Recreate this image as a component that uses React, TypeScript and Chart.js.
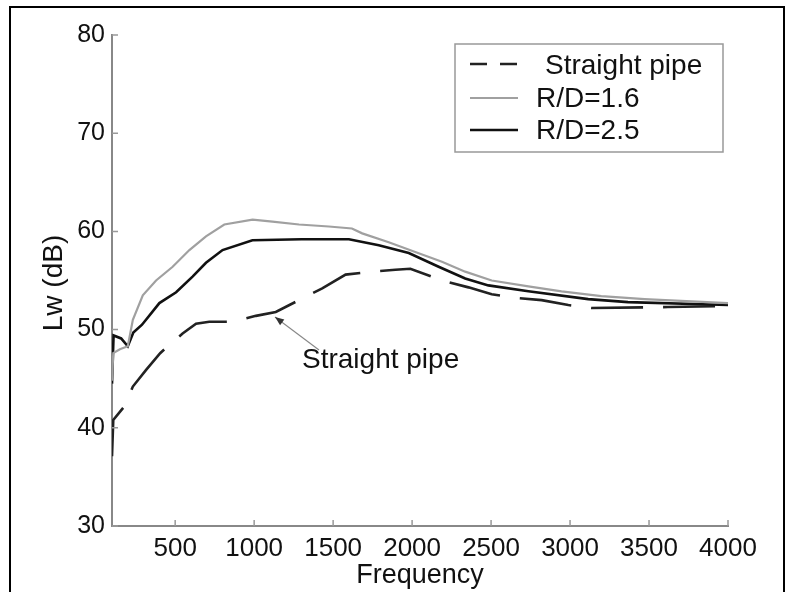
import React, { useEffect, useRef } from "react";
import { Chart, registerables } from "chart.js";

Chart.register(...registerables);

// ---- data ----
const freqStraight = [100, 108, 179, 232, 316, 405, 453, 547, 632, 716, 863, 1011, 1137, 1284, 1431, 1579, 1747, 1894, 1989, 2210, 2357, 2504, 2673, 2820, 2989, 3136, 3620, 4000];
const lwStraight = [37.1, 40.8, 42.2, 44.2, 45.9, 47.6, 48.3, 49.6, 50.6, 50.8, 50.8, 51.4, 51.8, 53.0, 54.2, 55.6, 55.9, 56.1, 56.2, 54.9, 54.3, 53.6, 53.2, 53.0, 52.5, 52.2, 52.3, 52.4];

const freqRD16 = [100, 108, 150, 200, 232, 295, 379, 484, 590, 695, 811, 990, 1116, 1284, 1473, 1619, 1684, 1852, 2020, 2189, 2336, 2504, 2736, 2946, 3198, 3472, 4000];
const lwRD16 = [44.8, 47.6, 48.0, 48.3, 51.0, 53.5, 55.0, 56.4, 58.1, 59.5, 60.7, 61.2, 61.0, 60.7, 60.5, 60.3, 59.8, 58.9, 57.9, 56.9, 55.9, 55.0, 54.4, 53.9, 53.4, 53.1, 52.7];

const freqRD25 = [100, 110, 158, 200, 235, 290, 400, 506, 610, 695, 800, 989, 1300, 1600, 1789, 1979, 2168, 2336, 2483, 2736, 3115, 3367, 4000];
const lwRD25 = [44.5, 49.4, 49.1, 48.3, 49.7, 50.5, 52.7, 53.8, 55.4, 56.8, 58.1, 59.1, 59.2, 59.2, 58.6, 57.8, 56.4, 55.2, 54.5, 53.9, 53.1, 52.8, 52.5];

const xTicks = [500, 1000, 1500, 2000, 2500, 3000, 3500, 4000];
const yTicks = [30, 40, 50, 60, 70, 80];
const seriesNames = ["Straight pipe", "R/D=1.6", "R/D=2.5"];
const xTitle = "Frequency";
const yTitle = "Lw (dB)";
const annotationText = "Straight pipe";

const FONT = "'Liberation Sans', Arial, Helvetica, sans-serif";
const TEXT = "#111";

const toPoints = (xs: number[], ys: number[]) => xs.map((x, i) => ({ x, y: ys[i] }));

const overlayPlugin = {
  id: "overlay",
  afterDraw(chart: any) {
    const ctx = chart.ctx as CanvasRenderingContext2D;
    const xs = chart.scales.x;
    const ys = chart.scales.y;
    const area = chart.chartArea;
    ctx.save();

    // outer frame
    ctx.strokeStyle = "#000";
    ctx.lineWidth = 2;
    ctx.beginPath();
    ctx.moveTo(10, 600);
    ctx.lineTo(10, 7);
    ctx.lineTo(784, 7);
    ctx.lineTo(784, 600);
    ctx.stroke();

    // inner tick marks
    ctx.strokeStyle = "#999";
    ctx.lineWidth = 1.5;
    ctx.beginPath();
    for (const t of xTicks) {
      const px = xs.getPixelForValue(t);
      ctx.moveTo(px, area.bottom);
      ctx.lineTo(px, area.bottom - 6);
    }
    for (const t of yTicks) {
      const py = ys.getPixelForValue(t);
      ctx.moveTo(area.left, py);
      ctx.lineTo(area.left + 6, py);
    }
    ctx.stroke();

    // axis titles
    ctx.fillStyle = TEXT;
    ctx.font = `27px ${FONT}`;
    ctx.textAlign = "center";
    ctx.textBaseline = "middle";
    ctx.fillText(xTitle, (area.left + area.right) / 2, 576);
    ctx.save();
    ctx.translate(54, 283);
    ctx.rotate(-Math.PI / 2);
    ctx.font = `28px ${FONT}`;
    ctx.fillText(yTitle, 0, 0);
    ctx.restore();

    // legend box
    ctx.strokeStyle = "#999";
    ctx.lineWidth = 1.5;
    ctx.strokeRect(455, 44, 268, 108);
    const rows = [
      { y: 64, dash: [17, 13], color: "#222", width: 2.5, text: seriesNames[0], tx: 545, base: 74 },
      { y: 98, dash: [], color: "#a0a0a0", width: 2, text: seriesNames[1], tx: 536, base: 107 },
      { y: 130, dash: [], color: "#111", width: 2.5, text: seriesNames[2], tx: 536, base: 139 },
    ];
    for (const r of rows) {
      ctx.setLineDash(r.dash);
      ctx.strokeStyle = r.color;
      ctx.lineWidth = r.width;
      ctx.beginPath();
      ctx.moveTo(470, r.y);
      ctx.lineTo(518, r.y);
      ctx.stroke();
      ctx.setLineDash([]);
      ctx.fillStyle = TEXT;
      ctx.textAlign = "left";
      ctx.textBaseline = "alphabetic";
      ctx.font = `28px ${FONT}`;
      ctx.fillText(r.text, r.tx, r.base);
    }

    // annotation
    ctx.fillStyle = TEXT;
    ctx.textAlign = "left";
    ctx.textBaseline = "alphabetic";
    ctx.font = `28px ${FONT}`;
    ctx.fillText(annotationText, 302, 368);
    const tipX = 275, tipY = 317;
    const tailX = 319, tailY = 350;
    ctx.strokeStyle = "#888";
    ctx.lineWidth = 1.2;
    ctx.beginPath();
    ctx.moveTo(tailX, tailY);
    ctx.lineTo(tipX, tipY);
    ctx.stroke();
    const ang = Math.atan2(tipY - tailY, tipX - tailX);
    const L = 9, W = 3.5;
    ctx.fillStyle = "#333";
    ctx.beginPath();
    ctx.moveTo(tipX, tipY);
    ctx.lineTo(tipX - L * Math.cos(ang) + W * Math.sin(ang), tipY - L * Math.sin(ang) - W * Math.cos(ang));
    ctx.lineTo(tipX - L * Math.cos(ang) - W * Math.sin(ang), tipY - L * Math.sin(ang) + W * Math.cos(ang));
    ctx.closePath();
    ctx.fill();

    ctx.restore();
  },
};

export default function App() {
  const ref = useRef<HTMLCanvasElement | null>(null);

  useEffect(() => {
    if (!ref.current) return;
    document.body.style.margin = "0";
    const chart = new Chart(ref.current, {
      type: "line",
      data: {
        datasets: [
          {
            label: seriesNames[1],
            data: toPoints(freqRD16, lwRD16),
            borderColor: "#a0a0a0",
            borderWidth: 2.2,
            pointRadius: 0,
            tension: 0,
            fill: false,
          },
          {
            label: seriesNames[2],
            data: toPoints(freqRD25, lwRD25),
            borderColor: "#111",
            borderWidth: 2.6,
            pointRadius: 0,
            tension: 0,
            fill: false,
          },
          {
            label: seriesNames[0],
            data: toPoints(freqStraight, lwStraight),
            borderColor: "#222",
            borderWidth: 2.6,
            borderDash: [52, 20],
            pointRadius: 0,
            tension: 0,
            fill: false,
          },
        ],
      },
      options: {
        responsive: false,
        animation: false,
        devicePixelRatio: 1,
        layout: { padding: { top: 35, right: 66, left: 0, bottom: 0 } },
        plugins: { legend: { display: false }, tooltip: { enabled: false } },
        scales: {
          x: {
            type: "linear",
            min: 100,
            max: 4000,
            grid: { display: false, drawTicks: false },
            border: { color: "#888", width: 2 },
            afterBuildTicks: (scale: any) => {
              scale.ticks = xTicks.map((v) => ({ value: v }));
            },
            afterFit: (scale: any) => {
              scale.height = 66;
            },
            ticks: {
              autoSkip: false,
              maxRotation: 0,
              padding: 7,
              color: TEXT,
              font: { family: FONT, size: 26 },
              callback: (v: any) => String(v),
            },
          },
          y: {
            type: "linear",
            min: 30,
            max: 80,
            grid: { display: false, drawTicks: false },
            border: { color: "#888", width: 2 },
            afterBuildTicks: (scale: any) => {
              scale.ticks = yTicks.map((v) => ({ value: v }));
            },
            afterFit: (scale: any) => {
              scale.width = 112;
            },
            ticks: {
              padding: 7,
              color: TEXT,
              font: { family: FONT, size: 25 },
              callback: (v: any) => String(v),
            },
          },
        },
      },
      plugins: [overlayPlugin],
    });
    return () => chart.destroy();
  }, []);

  return (
    <div style={{ position: "absolute", left: 0, top: 0, width: 794, height: 592, background: "#fff" }}>
      <canvas ref={ref} width={794} height={592} style={{ width: 794, height: 592 }} />
    </div>
  );
}
